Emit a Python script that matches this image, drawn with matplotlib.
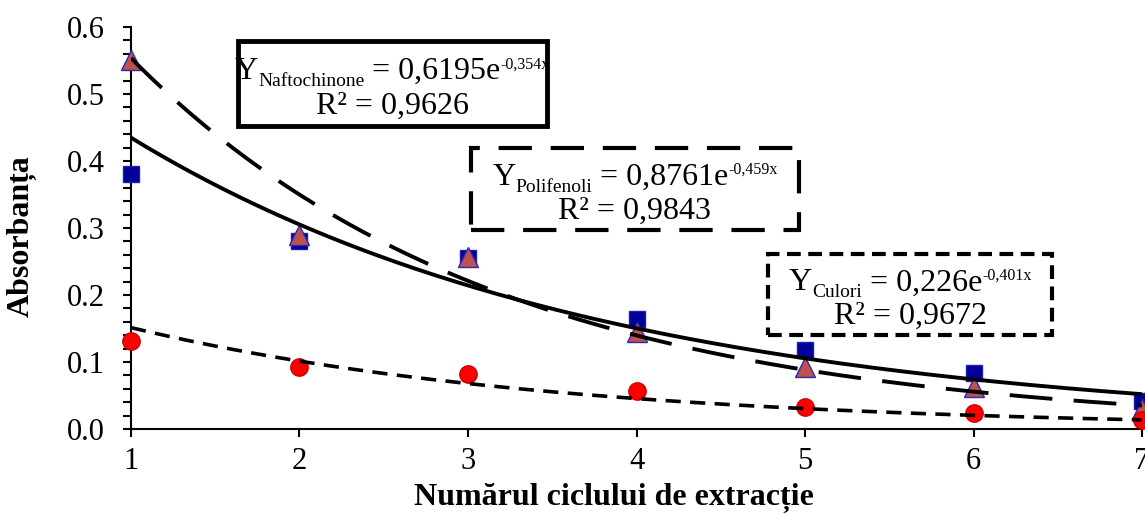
import matplotlib.pyplot as plt
import numpy as np

plt.rcParams['font.family'] = 'Liberation Serif'

# Data
cycle = [1, 2, 3, 4, 5, 6, 7]
naftochinone = [0.38, 0.28, 0.255, 0.164, 0.118, 0.084, 0.042]
polifenoli = [0.55, 0.29, 0.256, 0.145, 0.093, 0.063, 0.030]
culori = [0.131, 0.092, 0.082, 0.057, 0.033, 0.024, 0.013]

# Exponential trendline coefficients (y = a * e^(b x)) as printed on the chart
naft_a, naft_b, naft_r2 = 0.6195, -0.354, '0,9626'
poli_a, poli_b, poli_r2 = 0.8761, -0.459, '0,9843'
cul_a, cul_b, cul_r2 = 0.226, -0.401, '0,9672'

W, H = 1145, 517
fig = plt.figure(figsize=(W / 100, H / 100), dpi=100)
ax = fig.add_axes([0.1144, 0.1702, 0.8830, 0.7776])

# Markers
ax.plot(cycle, naftochinone, 's', color='#000099', markersize=12, mec='#1f1fb0', clip_on=False, zorder=3)
ax.plot(cycle, polifenoli, '^', color='#c0504d', markersize=14, mec='#2a2ab8', mew=1, clip_on=False, zorder=4)
ax.plot(cycle, culori, 'o', color='#ff0000', markersize=12.5, mec='#cc0000', clip_on=False, zorder=4)

# Trendlines
xs = np.linspace(1, 7, 200)
ax.plot(xs, naft_a * np.exp(naft_b * xs), '-', color='black', lw=2.8, zorder=5)
ax.plot(xs, poli_a * np.exp(poli_b * xs), color='black', lw=2.8, dashes=(11, 5.5), zorder=5)
ax.plot(xs, cul_a * np.exp(cul_b * xs), color='black', lw=2.6, dashes=(4.2, 2.6), zorder=5)

ax.set_xlim(1, 7)
ax.set_ylim(0, 0.6)
ax.set_xticks(cycle)
ax.set_yticks(np.arange(0, 0.61, 0.1))
ax.set_yticks(np.arange(0, 0.61, 0.02), minor=True)
ax.yaxis.set_major_formatter(plt.FormatStrFormatter('%.1f'))
ax.spines['top'].set_visible(False)
ax.spines['right'].set_visible(False)
for s in ['left', 'bottom']:
    ax.spines[s].set_linewidth(1.5)
ax.tick_params(axis='both', which='both', direction='out', length=6, width=1.5, labelsize=22)
ax.tick_params(axis='y', pad=13)
ax.tick_params(axis='x', pad=7)

ax.set_xlabel('Numărul ciclului de extracție', fontsize=23, fontweight='bold')
ax.set_ylabel('Absorbanța', fontsize=23, fontweight='bold')
ax.xaxis.set_label_coords(0.478, -0.135)
ax.yaxis.set_label_coords(-0.093, 0.48)


# Equation boxes, placed in figure pixels (from the top-left corner)
def eq_box(x0, y0, x1, y1, name, a, b, r2, ls, lw):
    rect = plt.Rectangle((x0 / W, 1 - y1 / H), (x1 - x0) / W, (y1 - y0) / H,
                         transform=fig.transFigure, facecolor='white', edgecolor='black',
                         lw=lw, zorder=10)
    if ls is not None:
        rect.set_linestyle(ls)
    fig.patches.append(rect)
    cx = (x0 + x1) / 2
    h = y1 - y0
    a_txt = ('%g' % a).replace('.', ',')
    b_txt = ('%g' % b).replace('.', ',')
    pieces = [('Y', 23, 0), (name, 14, -7), (' = ' + a_txt + 'e', 23, 0), (b_txt + 'x', 11.5, 11)]
    texts = [fig.text(0, 0, s, fontsize=size, va='baseline', zorder=11) for s, size, dy in pieces]
    fig.canvas.draw()
    r = fig.canvas.get_renderer()
    widths = [t.get_window_extent(r).width for t in texts]
    x = cx - sum(widths) / 2
    base1 = y0 + 0.45 * h
    for t, (s, size, dy), w in zip(texts, pieces, widths):
        t.set_position((x / W, 1 - (base1 - dy) / H))
        x += w
    fig.text(cx / W, 1 - (y0 + 0.86 * h) / H, 'R² = ' + r2, fontsize=23,
             ha='center', va='baseline', zorder=11)


eq_box(238, 41, 547, 126, 'Naftochinone', naft_a, naft_b, naft_r2, None, 3.5)
eq_box(471, 148, 799, 230, 'Polifenoli', poli_a, poli_b, poli_r2, (0, (8, 4.5)), 3)
eq_box(768, 254, 1052, 335, 'Culori', cul_a, cul_b, cul_r2, (0, (3.3, 1.8)), 3)

fig.savefig('out.png', dpi=100)
